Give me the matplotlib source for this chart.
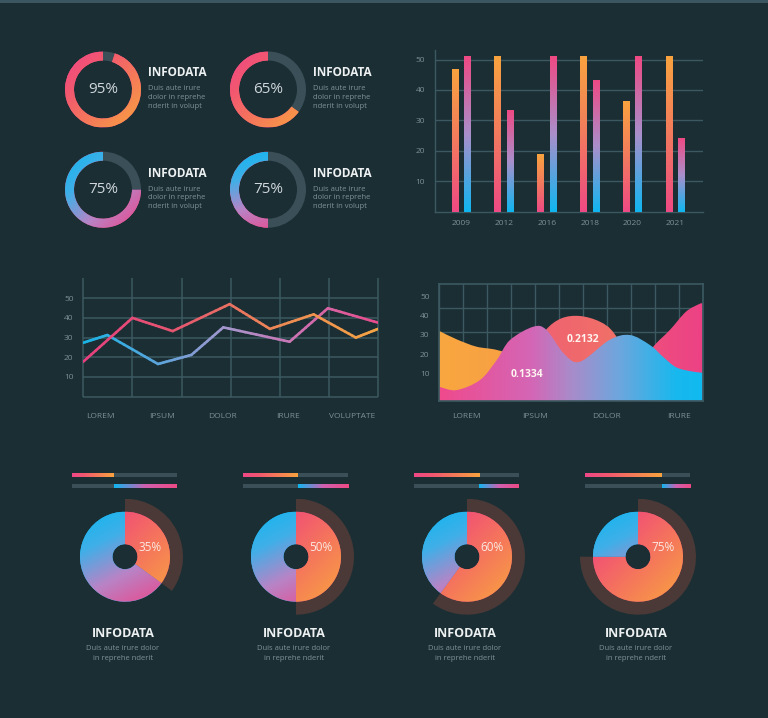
import numpy as np
import matplotlib
matplotlib.use('Agg')
import matplotlib.pyplot as plt
from matplotlib.colors import LinearSegmentedColormap
from matplotlib.patches import Rectangle, Wedge, PathPatch
from matplotlib.path import Path
from matplotlib.collections import LineCollection

# ---------------- data ----------------
donut_labels = ['95%', '65%', '75%', '75%']
donut_fill = [95, 65, 75, 50]
info_title = 'INFODATA'
info_lines = ['Duis aute irure', 'dolor in reprehe', 'nderit in volupt']

years = ['2009', '2012', '2016', '2018', '2020', '2021']
bars_a = [46.9, 51, 18.8, 51, 36.4, 51]
bars_b = [51.2, 33.4, 51, 43.2, 51, 24.2]
bar_yticks = [10, 20, 30, 40, 50]

line_cats = ['LOREM', 'IPSUM', 'DOLOR', 'IRURE', 'VOLUPTATE']
line_cat_pos = [0.34, 1.6, 2.84, 4.17, 5.47]
lineA_x = [0, 1, 1.82, 2.98, 3.8, 4.69, 5.55, 6]
lineA_y = [17.8, 40, 33.3, 47, 34.4, 41.8, 30, 34.4]
lineB_x = [0, 0.49, 1.52, 2.2, 2.85, 4.2, 4.98, 6]
lineB_y = [27.4, 31.3, 16.6, 21.2, 35.2, 27.9, 44.9, 37.6]

area_cats = ['LOREM', 'IPSUM', 'DOLOR', 'IRURE']
area_cat_pos = [1.15, 4, 7, 10]
orange_x = [0, 0.72, 1.55, 2.4, 3.4, 4.4, 5.3]
orange_y = [32, 27.7, 23.9, 22.2, 18, 9, 0]
red_x = [3.2, 4.0, 4.45, 5.1, 5.87, 6.7, 7.3, 8.1, 8.9]
red_y = [0, 22, 32.5, 38.5, 39.7, 36.8, 30.8, 14, 0]
pinkr_x = [7.6, 8.3, 8.94, 9.63, 10.3, 10.86, 11]
pinkr_y = [0, 12, 23.9, 32.5, 41.9, 45.9, 46.2]
front_x = [0, 0.72, 1.7, 2.4, 2.95, 3.93, 4.48, 5.19, 5.87, 7.1, 7.96, 8.8, 9.34, 9.9, 10.6, 11]
front_y = [3.2, 1.5, 6.7, 17, 27.3, 34.2, 32.5, 20.5, 16.1, 27.3, 29.9, 24.7, 18.7, 13.2, 11, 10.5]
area_notes = ['0.2132', '0.1334']

pie_pct = [35, 50, 60, 75]
pie_bar_fill = [0.40, 0.52, 0.62, 0.73]
pie_lines = ['Duis aute irure dolor', 'in reprehe nderit']

# ---------------- style ----------------
W, H = 768, 718
BG = '#1b2e34'
GRID = '#3c5961'
SLATE = '#3a4f58'
TICK = '#7d9096'
PINK = '#ee4a84'
ORANGE = '#f9a33f'
CYAN = '#10b6f0'
LAV = '#a98fcb'
RING = '#4a3936'

plt.rcParams['font.family'] = ['Open Sans', 'DejaVu Sans']

cm_po = LinearSegmentedColormap.from_list('po', [(0, '#ef4786'), (0.3, '#f2586f'), (1, ORANGE)])
cm_op = LinearSegmentedColormap.from_list('op', [ORANGE, '#f27a5e', PINK])
cm_cp = LinearSegmentedColormap.from_list('cp', [(0, CYAN), (0.3, '#40afe8'), (0.62, '#b884c6'), (1, '#ec4589')])
cm_pc = LinearSegmentedColormap.from_list('pc', [PINK, LAV, CYAN])
cm_la = LinearSegmentedColormap.from_list('la', ['#e8407f', '#e5586f', '#ee8a55', '#f3a444'])
cm_lb = LinearSegmentedColormap.from_list('lb', ['#18b4e6', '#5aa5dc', '#a895cc', '#d070b0', '#e84c8c'])
cm_front = LinearSegmentedColormap.from_list(
    'fr', [(0, '#ef4a8c'), (0.35, '#d466b6'), (0.5, '#a98bc9'), (0.68, '#6fa6dd'), (0.9, '#18b8ee'), (1, '#10baf0')])

fig = plt.figure(figsize=(W / 100, H / 100), dpi=100, facecolor=BG)
fig.add_artist(Rectangle((0, 1 - 3 / H), 1, 3 / H, transform=fig.transFigure, color='#3b5661', lw=0))


def px_axes(x0, y0, x1, y1):
    ax = fig.add_axes([x0 / W, 1 - y1 / H, (x1 - x0) / W, (y1 - y0) / H])
    ax.set_facecolor('none')
    return ax


def ftext(x, y, s, **kw):
    fig.text(x / W, 1 - y / H, s, **kw)


def grad_img(ax, cmap, extent, direction, clip, zorder=2):
    xs = np.linspace(0, 1, 200)
    X, Y = np.meshgrid(xs, xs)
    g = X * direction[0] + Y * direction[1]
    g = (g - g.min()) / (g.max() - g.min())
    im = ax.imshow(g, cmap=cmap, extent=extent, origin='upper', aspect='auto',
                   zorder=zorder, interpolation='bilinear')
    im.set_clip_path(clip)
    return im


def grad_line(ax, xs, ys, cmap, xmax, lw=1.9):
    segs, cols = [], []
    for i in range(len(xs) - 1):
        for k in range(12):
            a, b = k / 12, (k + 1) / 12
            p0 = (xs[i] + a * (xs[i + 1] - xs[i]), ys[i] + a * (ys[i + 1] - ys[i]))
            p1 = (xs[i] + b * (xs[i + 1] - xs[i]), ys[i] + b * (ys[i + 1] - ys[i]))
            segs.append([p0, p1])
            cols.append(cmap((p0[0] + p1[0]) / 2 / xmax))
    ax.add_collection(LineCollection(segs, colors=cols, linewidths=lw, capstyle='round', zorder=3))


def area_path(xs, ys, base):
    pts = np.column_stack([xs, ys]).astype(float)
    P = np.vstack([pts[0], pts, pts[-1]])
    verts = [(xs[0], base), tuple(pts[0])]
    codes = [Path.MOVETO, Path.LINETO]
    for i in range(1, len(P) - 2):
        p0, p1, p2, p3 = P[i - 1], P[i], P[i + 1], P[i + 2]
        verts += [tuple(p1 + (p2 - p0) / 6), tuple(p2 - (p3 - p1) / 6), tuple(p2)]
        codes += [Path.CURVE4] * 3
    verts += [(xs[-1], base), (xs[0], base)]
    codes += [Path.LINETO, Path.CLOSEPOLY]
    return Path(verts, codes)


# ---------------- top-left donuts ----------------
donut_centers = [(103, 89.5), (268, 89.5), (103, 189.7), (268, 189.7)]
donut_cmaps = [cm_po, cm_po, cm_cp, cm_cp]
donut_dirs = [(1, 1), (1, 1), (1, 1), (0.3, 1)]
R = 38
for i, (cx, cy) in enumerate(donut_centers):
    ax = px_axes(cx - R, cy - R, cx + R, cy + R)
    wedges, _ = ax.pie([donut_fill[i], 100 - donut_fill[i]], startangle=90, counterclock=True,
                       radius=1, colors=[PINK, SLATE], wedgeprops=dict(width=9 / R, linewidth=0))
    grad_img(ax, donut_cmaps[i], (-1, 1, -1, 1), donut_dirs[i], wedges[0])
    ax.text(0, 0, donut_labels[i], ha='center', va='center', color='#cfd7db', fontsize=11)
    ax.set_xlim(-1, 1)
    ax.set_ylim(-1, 1)
    ax.axis('off')
    tx = cx + 45
    ftext(tx, cy - 16.5, info_title, ha='left', va='center', color='#eef1f2', fontsize=8.5, fontweight='bold')
    for j, s in enumerate(info_lines):
        ftext(tx, cy - 0.5 + j * 8.7, s, ha='left', va='center', color='#7f9298', fontsize=5.5)

# ---------------- bar chart ----------------
ax = px_axes(435, 50.4, 703, 211.7)
xi = np.arange(len(years))
off, bw = 0.147, 0.16
ba = ax.bar(xi - off, bars_a, width=bw, color=ORANGE, zorder=2)
bb = ax.bar(xi + off, bars_b, width=bw, color=PINK, zorder=2)
for p in ba:
    x0, y0, w, h = p.get_x(), p.get_y(), p.get_width(), p.get_height()
    grad_img(ax, cm_op, (x0, x0 + w, y0, y0 + h), (0, 1), p, zorder=3)
for p in bb:
    x0, y0, w, h = p.get_x(), p.get_y(), p.get_width(), p.get_height()
    grad_img(ax, cm_pc, (x0, x0 + w, y0, y0 + h), (0, 1), p, zorder=3)
ax.set_xlim(-0.617, 5.645)
ax.set_ylim(0, 53)
ax.hlines(bar_yticks, -0.617, 5.645, color=GRID, lw=1.0, zorder=1)
for s in ['top', 'right']:
    ax.spines[s].set_visible(False)
for s in ['left', 'bottom']:
    ax.spines[s].set_color(GRID)
    ax.spines[s].set_linewidth(1.0)
ax.set_yticks(bar_yticks)
ax.set_xticks(xi)
ax.set_xticklabels(years)
ax.tick_params(length=0, colors=TICK, labelsize=6)
ax.tick_params(axis='y', pad=7)
ax.tick_params(axis='x', pad=6)

# ---------------- line chart ----------------
ax = px_axes(83.3, 278.5, 378, 396.7)
ax.vlines(range(7), 0, 60, color=GRID, lw=1.1, zorder=1, clip_on=False)
ax.hlines(range(0, 60, 10), 0, 6, color=GRID, lw=1.1, zorder=1, clip_on=False)
grad_line(ax, lineB_x, lineB_y, cm_lb, 6)
grad_line(ax, lineA_x, lineA_y, cm_la, 6)
ax.set_xlim(0, 6)
ax.set_ylim(0, 60)
for s in ax.spines.values():
    s.set_visible(False)
ax.set_yticks([10, 20, 30, 40, 50])
ax.set_xticks(line_cat_pos)
ax.set_xticklabels(line_cats)
ax.tick_params(length=0, colors=TICK, labelsize=6)
ax.tick_params(axis='y', pad=7)
ax.tick_params(axis='x', pad=12)

# ---------------- area chart ----------------
ax = px_axes(439.3, 284, 702.7, 400.7)
ybot, ytop = -3.97, 56.2
ax.vlines(range(12), ybot, ytop, color=GRID, lw=1.0, zorder=1)
ax.hlines([6.7, 19.1, 31.4, 43.8], 0, 11, color=GRID, lw=1.0, zorder=1)
layers = [(orange_x, orange_y, LinearSegmentedColormap.from_list('o', ['#f9a740', '#f59a48'])),
          (red_x, red_y, LinearSegmentedColormap.from_list('r', ['#ee5e74', '#f27763'])),
          (pinkr_x, pinkr_y, LinearSegmentedColormap.from_list('p', ['#f0557a', '#ec4285']))]
for k, (xs, ys, cm) in enumerate(layers):
    patch = PathPatch(area_path(xs, ys, ybot), fc='none', lw=0)
    ax.add_patch(patch)
    grad_img(ax, cm, (min(xs), max(xs), ybot, max(ys) + 1), (1, 0), patch, zorder=2 + k * 0.1)
patch = PathPatch(area_path(front_x, front_y, ybot), fc='none', lw=0)
ax.add_patch(patch)
grad_img(ax, cm_front, (0, 11, ybot, 40), (1, 0), patch, zorder=2.4)
ax.text(6.0, 27.8, area_notes[0], ha='center', va='center', color='#fff4f0', fontsize=7.5,
        fontweight='bold', zorder=5)
ax.text(3.66, 9.3, area_notes[1], ha='center', va='center', color='#fff4f0', fontsize=7.5,
        fontweight='bold', zorder=5)
ax.set_xlim(0, 11)
ax.set_ylim(ybot, ytop)
for s in ax.spines.values():
    s.set_color(GRID)
    s.set_linewidth(1.2)
    s.set_zorder(4)
ax.set_yticks([10, 20, 30, 40, 50])
ax.set_xticks(area_cat_pos)
ax.set_xticklabels(area_cats)
ax.tick_params(length=0, colors=TICK, labelsize=6)
ax.tick_params(axis='y', pad=7)
ax.tick_params(axis='x', pad=9)

# ---------------- bottom pies ----------------
PR = 58
for i, pct in enumerate(pie_pct):
    cx, cy = 125 + i * 171, 556.7
    ax = px_axes(cx - PR, cy - PR, cx + PR, cy + PR)
    ax.add_patch(Wedge((0, 0), 1, 90 - 3.6 * pct, 90, width=13.5 / PR, color=RING, lw=0, zorder=1))
    wedges, _ = ax.pie([pct, 100 - pct], startangle=90, counterclock=False, radius=45 / PR,
                       colors=[PINK, CYAN], wedgeprops=dict(width=32.5 / PR, linewidth=0))
    r = 45 / PR
    grad_img(ax, cm_po, (-r, r, -r, r), (1, 1), wedges[0], zorder=3)
    grad_img(ax, cm_cp, (-r, r, -r, r), (0.5, 1), wedges[1], zorder=3)
    ax.text(0.43, 0.167, f'{pct}%', ha='center', va='center', color='#fbeae2', fontsize=8.5, zorder=5)
    ax.set_xlim(-1, 1)
    ax.set_ylim(-1, 1)
    ax.axis('off')

    bx = px_axes(cx - 53, 470, cx + 52, 491)
    f = pie_bar_fill[i]
    bx.barh([5, 16], [1, 1], height=3.4, color=SLATE, zorder=1)
    b1 = bx.barh(5, f, height=3.4, color=PINK, zorder=2)[0]
    grad_img(bx, cm_po, (0, f, 7, 3), (1, 0), b1, zorder=3)
    b2 = bx.barh(16, 1 - f, left=f, height=3.4, color=CYAN, zorder=2)[0]
    grad_img(bx, LinearSegmentedColormap.from_list('cp2', [CYAN, '#d060b0', PINK]),
             (f, 1, 18, 14), (1, 0), b2, zorder=3)
    bx.set_xlim(0, 1)
    bx.set_ylim(21, 0)
    bx.axis('off')

    ftext(cx - 2, 633.3, info_title, ha='center', va='center', color='#eef1f2', fontsize=9, fontweight='bold')
    for j, s in enumerate(pie_lines):
        ftext(cx - 2, 648 + j * 10, s, ha='center', va='center', color='#7f9298', fontsize=5.5)

fig.savefig('out.png', dpi=100, facecolor=BG)
